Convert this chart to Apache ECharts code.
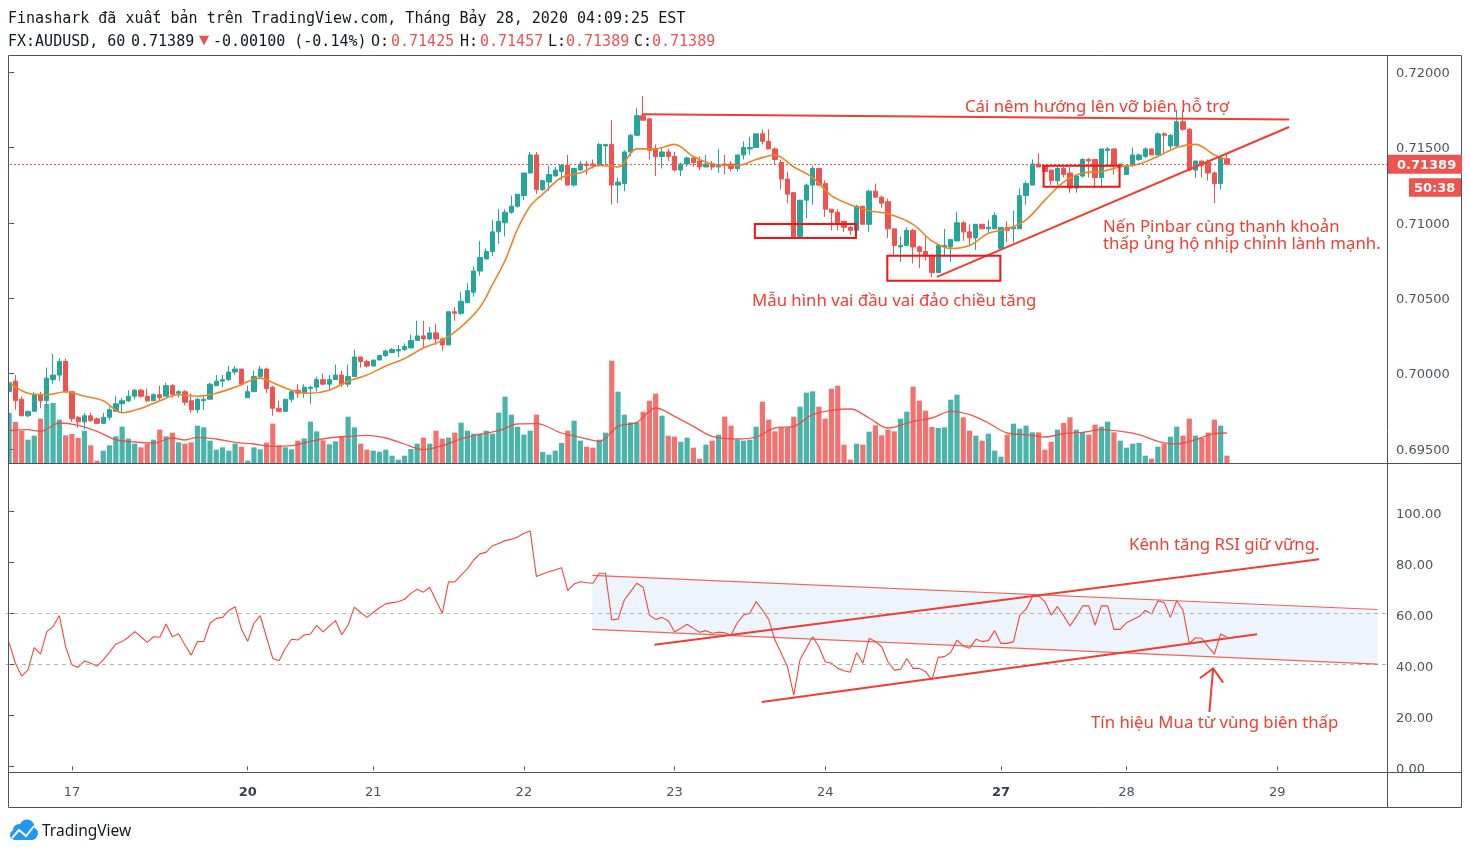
<!DOCTYPE html>
<html><head><meta charset="utf-8">
<script src="https://cdn.jsdelivr.net/npm/echarts@6/dist/echarts.min.js"></script>
<style>html,body{margin:0;padding:0;background:#fff;}#c{width:1470px;height:855px;}</style>
</head><body><div id="c"></div>
<script>
// ---------- time axis ----------
const slotCount = 220;
const dayIdx = [10, 38, 58, 82, 106, 130, 158, 178, 202];
const dayLabels = ['17', '20', '21', '22', '23', '24', '27', '28', '29'];
const boldDays = ['20', '27'];

// ---------- OHLC (hourly FX:AUDUSD) ----------
const open = [0.6988,0.6995,0.6983,0.6972,0.6975,0.6986,0.6982,0.6996,0.6999,0.7008,
0.6988,0.6971,0.6968,0.6972,0.6970,0.6967,0.6971,0.6975,0.6980,0.6982,
0.6985,0.6989,0.6985,0.6982,0.6986,0.6985,0.6992,0.6987,0.6988,0.6982,
0.6976,0.6982,0.6983,0.6992,0.6995,0.6996,0.7001,0.7003,0.6984,0.6988,
0.6998,0.7003,0.6991,0.6977,0.6975,0.6983,0.6989,0.6987,0.6990,0.6991,
0.6996,0.6993,0.6996,0.6999,0.6993,0.6998,0.7011,0.7008,0.7005,0.7009,
0.7012,0.7014,0.7015,0.7016,0.7017,0.7022,0.7025,0.7023,0.7027,0.7023,
0.7019,0.7041,0.7040,0.7047,0.7054,0.7068,0.7076,0.7081,0.7094,0.7100,
0.7107,0.7111,0.7118,0.7133,0.7145,0.7122,0.7127,0.7131,0.7134,0.7138,
0.7125,0.7135,0.7139,0.7139,0.7138,0.7151,0.7152,0.7125,0.7126,0.7147,
0.7158,0.7171,0.7169,0.7149,0.7144,0.7147,0.7144,0.7135,0.7139,0.7143,
0.7141,0.7137,0.7139,0.7137,0.7139,0.7139,0.7136,0.7145,0.7149,0.7150,
0.7159,0.7154,0.7149,0.7140,0.7129,0.7120,0.7091,0.7115,0.7125,0.7136,
0.7126,0.7109,0.7107,0.7101,0.7097,0.7095,0.7111,0.7099,0.7121,0.7117,
0.7114,0.7096,0.7084,0.7085,0.7095,0.7084,0.7081,0.7078,0.7067,0.7084,
0.7084,0.7088,0.7100,0.7094,0.7090,0.7099,0.7096,0.7096,0.7083,0.7097,
0.7096,0.7096,0.7118,0.7125,0.7139,0.7138,0.7135,0.7128,0.7136,0.7133,
0.7123,0.7131,0.7142,0.7142,0.7130,0.7148,0.7149,0.7138,0.7132,0.7138,
0.7142,0.7144,0.7149,0.7145,0.7159,0.7151,0.7151,0.7167,0.7162,0.7135,
0.7141,0.7140,0.7133,0.7126,0.71425];
const high = [0.6996,0.6999,0.6985,0.6975,0.6988,0.6988,0.7004,0.7013,0.7010,0.7010,
0.6988,0.6972,0.6974,0.6974,0.6971,0.6974,0.6978,0.6985,0.6984,0.6989,
0.6990,0.6990,0.6990,0.6987,0.6992,0.6994,0.6993,0.6989,0.6989,0.6987,
0.6984,0.6986,0.6994,0.6999,0.6999,0.7005,0.7005,0.7003,0.6992,0.7002,
0.7005,0.7004,0.6992,0.6982,0.6983,0.6989,0.6993,0.6993,0.6992,0.6998,
0.7000,0.6999,0.7006,0.7002,0.7006,0.7016,0.7011,0.7009,0.7009,0.7012,
0.7016,0.7017,0.7019,0.7020,0.7026,0.7035,0.7035,0.7031,0.7033,0.7024,
0.7041,0.7044,0.7054,0.7060,0.7071,0.7088,0.7083,0.7102,0.7109,0.7109,
0.7118,0.7119,0.7133,0.7147,0.7147,0.7128,0.7138,0.7137,0.7139,0.7145,
0.7136,0.7141,0.7141,0.7142,0.7153,0.7152,0.7168,0.7130,0.7148,0.7159,
0.7176,0.7184,0.7169,0.7152,0.7150,0.7149,0.7147,0.7140,0.7144,0.7144,
0.7144,0.7145,0.7141,0.7149,0.7145,0.7141,0.7145,0.7154,0.7157,0.7159,
0.7162,0.7162,0.7150,0.7142,0.7134,0.7120,0.7115,0.7126,0.7138,0.7136,
0.7128,0.7109,0.7109,0.7101,0.7098,0.7112,0.7111,0.7122,0.7126,0.7118,
0.7116,0.7096,0.7091,0.7097,0.7096,0.7085,0.7091,0.7079,0.7085,0.7096,
0.7089,0.7107,0.7101,0.7099,0.7099,0.7099,0.7102,0.7107,0.7097,0.7101,
0.7108,0.7123,0.7128,0.7142,0.7146,0.7138,0.7135,0.7138,0.7137,0.7137,
0.7132,0.7143,0.7143,0.7142,0.7149,0.7150,0.7149,0.7139,0.7138,0.7150,
0.7146,0.7150,0.7149,0.7160,0.7160,0.7159,0.7175,0.7175,0.7163,0.7141,
0.7141,0.7142,0.7134,0.7144,0.71457];
const low = [0.6987,0.6976,0.6972,0.6971,0.6975,0.6977,0.6977,0.6993,0.6995,0.6987,
0.6968,0.6964,0.6963,0.6968,0.6967,0.6967,0.6969,0.6975,0.6974,0.6981,
0.6983,0.6984,0.6981,0.6982,0.6982,0.6985,0.6984,0.6984,0.6979,0.6974,
0.6974,0.6976,0.6983,0.6992,0.6991,0.6995,0.6999,0.6992,0.6984,0.6988,
0.6997,0.6987,0.6972,0.6975,0.6975,0.6981,0.6984,0.6984,0.6980,0.6988,
0.6992,0.6989,0.6996,0.6991,0.6991,0.6998,0.7004,0.7004,0.7005,0.7009,
0.7011,0.7014,0.7011,0.7015,0.7017,0.7022,0.7017,0.7022,0.7019,0.7015,
0.7019,0.7035,0.7039,0.7047,0.7051,0.7065,0.7076,0.7078,0.7086,0.7091,
0.7106,0.7110,0.7115,0.7133,0.7119,0.7121,0.7121,0.7131,0.7128,0.7125,
0.7124,0.7135,0.7132,0.7136,0.7137,0.7138,0.7112,0.7113,0.7121,0.7144,
0.7158,0.7168,0.7142,0.7131,0.7136,0.7141,0.7134,0.7131,0.7137,0.7137,
0.7135,0.7137,0.7135,0.7133,0.7132,0.7134,0.7134,0.7142,0.7145,0.7150,
0.7152,0.7149,0.7139,0.7122,0.7113,0.7091,0.7090,0.7103,0.7112,0.7125,
0.7104,0.7095,0.7095,0.7094,0.7092,0.7095,0.7099,0.7094,0.7117,0.7110,
0.7090,0.7078,0.7074,0.7085,0.7073,0.7070,0.7075,0.7064,0.7067,0.7078,
0.7074,0.7088,0.7088,0.7085,0.7082,0.7096,0.7093,0.7096,0.7083,0.7087,
0.7087,0.7096,0.7112,0.7125,0.7137,0.7134,0.7125,0.7125,0.7130,0.7120,
0.7120,0.7130,0.7130,0.7123,0.7123,0.7137,0.7132,0.7132,0.7132,0.7137,
0.7141,0.7143,0.7145,0.7145,0.7146,0.7149,0.7150,0.7161,0.7134,0.7130,
0.7130,0.7128,0.7113,0.7122,0.71389];
const close = [0.6994,0.6982,0.6972,0.6975,0.6986,0.6982,0.6997,0.6999,0.7008,0.6988,
0.6970,0.6968,0.6972,0.6969,0.6967,0.6971,0.6976,0.6980,0.6982,0.6985,
0.6989,0.6985,0.6982,0.6986,0.6984,0.6992,0.6986,0.6988,0.6981,0.6976,
0.6983,0.6983,0.6993,0.6995,0.6996,0.7001,0.7003,0.6993,0.6988,0.6998,
0.7003,0.6990,0.6977,0.6975,0.6983,0.6988,0.6987,0.6991,0.6991,0.6996,
0.6993,0.6996,0.6999,0.6993,0.6998,0.7011,0.7008,0.7005,0.7009,0.7012,
0.7015,0.7016,0.7016,0.7018,0.7022,0.7025,0.7023,0.7027,0.7023,0.7019,
0.7041,0.7040,0.7048,0.7055,0.7068,0.7077,0.7081,0.7094,0.7101,0.7107,
0.7111,0.7119,0.7133,0.7145,0.7122,0.7128,0.7132,0.7135,0.7138,0.7125,
0.7136,0.7139,0.7138,0.7138,0.7152,0.7152,0.7125,0.7127,0.7147,0.7158,
0.7171,0.7168,0.7148,0.7144,0.7147,0.7144,0.7135,0.7139,0.7143,0.7140,
0.7137,0.7139,0.7137,0.7138,0.7138,0.7136,0.7145,0.7150,0.7150,0.7159,
0.7154,0.7149,0.7142,0.7129,0.7119,0.7091,0.7115,0.7125,0.7136,0.7125,
0.7109,0.7107,0.7100,0.7097,0.7095,0.7111,0.7099,0.7121,0.7117,0.7113,
0.7096,0.7085,0.7085,0.7095,0.7084,0.7081,0.7078,0.7067,0.7085,0.7085,
0.7089,0.7100,0.7094,0.7090,0.7099,0.7096,0.7097,0.7105,0.7097,0.7095,
0.7097,0.7118,0.7126,0.7139,0.7137,0.7134,0.7128,0.7136,0.7132,0.7123,
0.7131,0.7142,0.7141,0.7130,0.7149,0.7149,0.7138,0.7139,0.7138,0.7145,
0.7145,0.7149,0.7145,0.7159,0.7158,0.7158,0.7167,0.7162,0.7135,0.7141,
0.7138,0.7133,0.7126,0.7143,0.71389];

// ---------- volume (relative units) ----------
const volume = [150,123,97,70,82,133,177,180,130,83,
87,75,97,53,7,37,53,80,109,73,
58,47,57,70,100,80,91,62,58,62,
112,107,67,40,47,37,58,49,7,47,
41,61,118,53,47,41,67,74,124,95,
68,56,65,80,139,107,58,40,37,34,
40,22,10,22,42,58,76,58,97,73,
76,91,121,97,88,88,97,88,151,199,
145,109,85,97,145,33,25,37,60,97,
127,67,49,46,70,91,307,214,145,122,
122,154,187,208,142,82,79,64,76,46,
13,55,67,85,139,112,70,67,70,109,
184,130,95,107,107,139,169,211,215,169,
133,223,232,55,10,58,55,94,113,83,
100,95,133,154,229,187,157,108,105,107,
190,205,137,97,82,67,88,37,19,85,
118,103,112,92,92,40,64,100,120,137,
100,93,85,115,109,124,92,67,46,58,
60,22,13,49,58,79,109,82,133,82,
76,91,130,112,22];

// ---------- RSI ----------
const rsi = [48.5,40.4,35.4,37.8,46.5,44.0,52.8,54.8,59.1,46.9,
39.7,38.8,41.3,40.4,39.3,41.7,44.8,48.0,48.9,50.6,
52.8,50.8,48.6,50.8,50.6,55.8,50.8,52.0,47.6,43.6,
48.9,49.0,56.1,58.0,58.4,61.1,62.6,53.8,49.0,56.1,
59.1,50.6,42.3,41.4,46.2,49.8,49.5,51.5,51.9,55.3,
52.7,55.0,57.1,51.6,55.4,62.4,60.3,58.4,60.3,62.2,
63.7,64.2,64.5,65.5,67.8,69.4,68.3,70.2,65.0,60.0,
72.4,72.3,75.0,77.4,80.9,83.3,84.0,86.5,87.4,88.5,
89.0,89.9,91.4,92.3,74.4,75.4,76.3,77.0,77.9,68.9,
71.5,72.4,72.0,71.8,75.7,75.7,57.4,57.7,65.2,68.5,
71.8,70.2,59.3,57.6,58.4,57.1,52.8,54.1,55.7,54.1,
52.6,53.2,52.2,52.6,52.4,51.5,56.3,59.3,60.0,64.6,
61.3,57.6,49.5,44.3,39.0,27.9,41.9,46.3,50.8,46.9,
41.0,40.4,38.4,37.5,36.9,44.6,40.4,50.2,48.9,46.9,
41.0,37.7,38.0,42.3,38.4,38.4,37.1,33.8,42.7,43.0,
44.6,49.5,47.2,46.3,49.8,48.9,49.3,53.2,48.2,48.2,
48.9,59.3,61.6,66.5,66.8,64.6,59.3,62.6,59.0,55.0,
58.7,62.9,62.9,55.4,62.9,62.9,53.7,53.7,56.3,57.6,
58.7,61.1,59.7,64.8,64.2,58.4,64.9,61.3,48.2,50.4,
50.2,46.9,44.0,51.9,50.6];

// ---------- moving averages: [candle index, value] ----------
const priceMa = [[0,0.6994],[3,0.6987],[6,0.6986],[9,0.6988],[12,0.6985],[15,0.6982],[18,0.6974],[21,0.6977],
[24,0.6982],[27,0.6986],[30,0.6985],[33,0.6987],[36,0.6991],[40,0.6997],[42,0.6994],[45,0.6989],[48,0.6987],
[51,0.6989],[54,0.6995],[57,0.6999],[60,0.7005],[63,0.7010],[66,0.7017],[69,0.7022],[72,0.7031],[75,0.7044],
[77,0.7059],[79,0.7075],[81,0.7096],[83,0.7111],[85,0.7119],[88,0.7130],[91,0.7133],[94,0.7138],[97,0.7137],
[100,0.7149],[103,0.7149],[106,0.7152],[109,0.7144],[112,0.7139],[116,0.7138],[119,0.7142],[122,0.7145],
[125,0.7137],[128,0.7130],[131,0.7118],[134,0.7112],[137,0.7108],[140,0.7106],[144,0.7099],[147,0.7088],
[150,0.7083],[153,0.7085],[156,0.7093],[159,0.7096],[162,0.7102],[165,0.7115],[168,0.7127],[171,0.7133],
[174,0.7134],[177,0.7137],[180,0.7139],[183,0.7144],[186,0.7150],[189,0.7152],[192,0.7145],[194,0.7142]];
const volumeMa = [[0,97],[3,100],[5,95],[8,120],[11,113],[14,95],[17,70],[20,63],[23,60],[26,75],[28,69],
[30,77],[33,72],[36,62],[39,57],[42,50],[45,52],[48,65],[51,75],[54,80],[57,83],[60,75],[63,57],[66,40],
[69,52],[72,72],[75,86],[78,97],[81,117],[84,118],[88,90],[91,77],[94,65],[97,110],[100,122],[103,165],
[106,140],[109,110],[112,80],[116,72],[119,78],[122,105],[125,110],[128,145],[131,158],[134,162],[137,135],
[140,105],[144,125],[147,135],[150,155],[153,145],[156,120],[159,90],[162,85],[165,78],[168,88],[171,92],
[174,100],[177,95],[180,85],[183,65],[186,57],[189,70],[192,88],[194,90]];

// ---------- axis ticks ----------
const priceTicks = [0.695, 0.700, 0.705, 0.710, 0.715, 0.720];
const rsiTicks = [0, 20, 40, 60, 80, 100];
const rsiGuides = [60, 40];
const countdown = '50:38';

// ---------- drawn annotations, in (candle index, value) ----------
const wedgeResistance = [[100.8, 0.71720], [203.9, 0.71685]];
const wedgeSupport = [[147.8, 0.70641], [203.9, 0.71635]];
const patternBoxes = [
  [[118.8, 0.70992], [134.9, 0.70899]],
  [[139.9, 0.70782], [157.9, 0.70616]],
  [[164.8, 0.71379], [176.9, 0.71239]]
];
const rsiChannelUpper = [[92.9, 74.9], [218, 61.5]];
const rsiChannelLower = [[92.9, 53.7], [218, 40.1]];
const rsiTrendA = [[102.8, 47.7], [208.7, 81.2]];
const rsiTrendB = [[119.9, 25.2], [198.8, 51.8]];
const rsiArrowShaft = [[191.2, 21.3], [191.8, 38.4]];
const rsiArrowHead = [[189.7, 34.5], [191.8, 38.4], [193.4, 32.8]];

// ---------- layout & styles ----------
const UP = '#26a69a', DOWN = '#ef5350';
const ANNO = '#f23d33', BOX = '#ff1010';
const AXIS_TXT = '#50535e', BORDER = '#4f5360';
const PX_LEFT = 6, PANE_W = 1381;
const PRICE_TOP = 55, PRICE_H = 408, RSI_TOP = 463, RSI_H = 309;
const priceMin = 0.72 - (463 - 72) / 15080, priceMax = 0.72 + 17 / 15080;
const rsiMin = (766.3 - 772) / 2.55, rsiMax = (766.3 - 463) / 2.55;
const volMax = PRICE_H * 3;

const last = close.length - 1;
const cats = Array.from({length: slotCount}, (_, k) => String(k));
const candleData = open.map((o, k) => [o, close[k], low[k], high[k]]);
const volData = volume.map((v, k) => ({value: v, itemStyle: {color: close[k] >= open[k] ? 'rgba(38,166,154,0.84)' : 'rgba(239,83,80,0.82)'}}));
const isDay = (idx) => dayIdx.indexOf(idx) >= 0;

function shapeSeries(shapes, xAxisIndex, yAxisIndex, z) {
  return {
    type: 'custom', xAxisIndex, yAxisIndex, z, silent: true, animation: false,
    data: shapes.map(s => s.pts[0]),
    renderItem: (params, api) => {
      const s = shapes[params.dataIndex];
      const pts = s.pts.map(p => api.coord(p));
      if (s.kind === 'fill') return {type: 'polygon', shape: {points: pts}, style: {fill: '#edf4fb', stroke: null}};
      if (s.kind === 'box') return {type: 'polygon', shape: {points: pts}, style: {fill: 'none', stroke: BOX, lineWidth: 2}};
      return {type: 'polyline', shape: {points: pts}, style: {fill: 'none', stroke: s.color || ANNO, lineWidth: s.width || 2, opacity: s.opacity || 1}};
    }
  };
}
const boxShape = (b) => ({kind: 'box', pts: [[b[0][0], b[0][1]], [b[1][0], b[0][1]], [b[1][0], b[1][1]], [b[0][0], b[1][1]]]});
const priceShapes = [
  {kind: 'line', pts: wedgeResistance},
  {kind: 'line', pts: wedgeSupport}
].concat(patternBoxes.map(boxShape));
const rsiFill = [{kind: 'fill', pts: [rsiChannelUpper[0], rsiChannelUpper[1], rsiChannelLower[1], rsiChannelLower[0]]}];
const rsiLines = [
  {kind: 'line', pts: rsiChannelUpper, width: 1.2, opacity: 0.8},
  {kind: 'line', pts: rsiChannelLower, width: 1.2, opacity: 0.8},
  {kind: 'line', pts: rsiTrendA},
  {kind: 'line', pts: rsiTrendB},
  {kind: 'line', pts: rsiArrowShaft},
  {kind: 'line', pts: rsiArrowHead}
];

const axisRich = (shift) => ({v: {padding: [shift, 0, 0, 0], color: AXIS_TXT, fontSize: 13, fontFamily: 'DejaVu Sans'}});
const chart = echarts.init(document.getElementById('c'));
const option = {
  animation: false,
  backgroundColor: '#ffffff',
  grid: [
    {left: PX_LEFT, top: PRICE_TOP, width: PANE_W, height: PRICE_H, outerBoundsMode: 'none', containLabel: false},
    {left: PX_LEFT, top: RSI_TOP, width: PANE_W, height: RSI_H, outerBoundsMode: 'none', containLabel: false}
  ],
  xAxis: [
    {type: 'category', gridIndex: 0, data: cats, boundaryGap: true, show: false},
    {type: 'category', gridIndex: 1, data: cats, boundaryGap: true,
      axisLine: {show: false},
      axisTick: {show: true, alignWithLabel: true, interval: (i) => isDay(i), length: 4, lineStyle: {color: AXIS_TXT}},
      axisLabel: {show: true, interval: (i) => isDay(i), margin: 14, color: AXIS_TXT, fontSize: 13, fontFamily: 'DejaVu Sans',
        formatter: (v) => { const k = dayIdx.indexOf(Number(v)); if (k < 0) return ''; const t = dayLabels[k]; return boldDays.indexOf(t) >= 0 ? '{b|' + t + '}' : t; },
        rich: {b: {fontWeight: 'bold', fontSize: 13, color: '#3a3d47', fontFamily: 'DejaVu Sans'}}},
      splitLine: {show: false}},
    {type: 'value', gridIndex: 0, min: -0.5, max: slotCount - 0.5, show: false},
    {type: 'value', gridIndex: 1, min: -0.5, max: slotCount - 0.5, show: false}
  ],
  yAxis: [
    {type: 'value', gridIndex: 0, position: 'right', min: priceMin, max: priceMax,
      splitLine: {show: false}, axisLine: {show: false},
      axisTick: {show: true, length: 5, customValues: priceTicks, lineStyle: {color: AXIS_TXT}},
      axisLabel: {customValues: priceTicks, formatter: (v) => '{v|' + v.toFixed(5) + '}', margin: 9, rich: axisRich(3), color: AXIS_TXT, fontSize: 13, fontFamily: 'DejaVu Sans'}},
    {type: 'value', gridIndex: 0, position: 'left', min: 0, max: volMax, show: false},
    {type: 'value', gridIndex: 1, position: 'right', min: rsiMin, max: rsiMax,
      splitLine: {show: false}, axisLine: {show: false},
      axisTick: {show: true, length: 5, customValues: rsiTicks, lineStyle: {color: AXIS_TXT}},
      axisLabel: {customValues: rsiTicks, formatter: (v) => '{v|' + v.toFixed(2) + '}', margin: 9, rich: axisRich(6), color: AXIS_TXT, fontSize: 13, fontFamily: 'DejaVu Sans'}}
  ],
  series: [
    {type: 'bar', name: 'Volume', xAxisIndex: 0, yAxisIndex: 1, data: volData, barWidth: 5.2, z: 1, silent: true},
    {type: 'line', name: 'Vol MA', xAxisIndex: 0, yAxisIndex: 1, data: volumeMa, smooth: 0.35, showSymbol: false, z: 2, silent: true,
      lineStyle: {color: '#f2453a', width: 1.3, opacity: 0.9}},
    {type: 'candlestick', name: 'AUDUSD', xAxisIndex: 0, yAxisIndex: 0, data: candleData, barWidth: 4.8, z: 3,
      itemStyle: {color: UP, color0: DOWN, borderColor: UP, borderColor0: DOWN, borderWidth: 1}},
    {type: 'line', name: 'MA', xAxisIndex: 0, yAxisIndex: 0, data: priceMa, smooth: 0.35, showSymbol: false, z: 4, silent: true,
      lineStyle: {color: '#ef8427', width: 1.6},
      markLine: {symbol: 'none', silent: true, precision: 6, label: {show: false}, lineStyle: {color: DOWN, type: [2, 2], width: 1},
        data: [{yAxis: close[last]}]}},
    shapeSeries(priceShapes, 2, 0, 6),
    shapeSeries(rsiFill, 3, 2, 0),
    {type: 'line', name: 'RSI', xAxisIndex: 1, yAxisIndex: 2, data: rsi, showSymbol: false, z: 3, silent: true,
      lineStyle: {color: '#f4473d', width: 1.1},
      markLine: {symbol: 'none', silent: true, label: {show: false}, lineStyle: {color: '#b2b5be', type: [4, 4], width: 1},
        data: rsiGuides.map(v => ({yAxis: v}))}},
    shapeSeries(rsiLines, 3, 2, 5)
  ]
};
chart.setOption(option);

// ---------- frame, header, labels ----------
const yLast = chart.convertToPixel({yAxisIndex: 0}, close[last]);
const fmt = (v) => v.toFixed(5);
const chg = close[last] - 0.71489;
const T = (x, y, text, font, fill, extra) => Object.assign({type: 'text', x, y, z: 60, silent: true,
  style: {text, font, fill, verticalAlign: 'middle', align: 'left'}}, extra || {});
const mono = '15px "DejaVu Sans Mono"';
const anno = '16.8px "Noto Sans"';
const graphic = [
  {type: 'rect', z: 55, silent: true, shape: {x: 0, y: 55, width: 8, height: 420}, style: {fill: '#fff'}},
  {type: 'rect', z: 61, silent: true, shape: {x: 8.5, y: 55.5, width: 1453, height: 752}, style: {fill: 'none', stroke: BORDER, lineWidth: 1}},
  {type: 'line', z: 61, silent: true, shape: {x1: 8, y1: 463.5, x2: 1462, y2: 463.5}, style: {stroke: BORDER, lineWidth: 1}},
  {type: 'line', z: 61, silent: true, shape: {x1: 8, y1: 772.5, x2: 1462, y2: 772.5}, style: {stroke: BORDER, lineWidth: 1}},
  {type: 'line', z: 61, silent: true, shape: {x1: 1387.5, y1: 55, x2: 1387.5, y2: 808}, style: {stroke: BORDER, lineWidth: 1}},
  // header
  T(8, 19, 'Finashark đã xuất bản trên TradingView.com, Tháng Bảy 28, 2020 04:09:25 EST', mono, '#131722'),
  T(8, 42, 'FX:AUDUSD, 60', mono, '#131722'),
  T(131, 42, fmt(close[last]), mono, '#131722'),
  T(199, 41, '▼', '13px "DejaVu Sans"', DOWN),
  T(213, 42, chg.toFixed(5) + ' (' + (chg / 0.71489 * 100).toFixed(2) + '%)', mono, '#131722'),
  T(371, 42, 'O:', mono, '#131722'), T(391, 42, fmt(open[last]), mono, DOWN),
  T(460, 42, 'H:', mono, '#131722'), T(480, 42, fmt(high[last]), mono, DOWN),
  T(548, 42, 'L:', mono, '#131722'), T(566, 42, fmt(low[last]), mono, DOWN),
  T(634, 42, 'C:', mono, '#131722'), T(652, 42, fmt(close[last]), mono, DOWN),
  // last price tag
  {type: 'rect', z: 62, silent: true, shape: {x: 1388, y: yLast - 9.5, width: 74, height: 19}, style: {fill: DOWN}},
  T(1397, yLast + 1, fmt(close[last]), 'bold 13px "DejaVu Sans"', '#ffffff', {z: 63}),
  {type: 'rect', z: 62, silent: true, shape: {x: 1409, y: yLast + 14, width: 52, height: 18.5}, style: {fill: DOWN}},
  T(1414, yLast + 24, countdown, 'bold 13px "DejaVu Sans"', '#ffffff', {z: 63}),
  // annotations
  T(965, 107, 'Cái nêm hướng lên vỡ biên hỗ trợ', anno, ANNO),
  T(1103, 227, 'Nến Pinbar cùng thanh khoản', anno, ANNO),
  T(1103, 244, 'thấp ủng hộ nhịp chỉnh lành mạnh.', anno, ANNO),
  T(752, 301, 'Mẫu hình vai đầu vai đảo chiều tăng', anno, ANNO),
  T(1129, 545, 'Kênh tăng RSI giữ vững.', anno, ANNO),
  T(1091, 723, 'Tín hiệu Mua từ vùng biên thấp', anno, ANNO),
  // logo
  {type: 'group', z: 60, silent: true, children: [
    {type: 'circle', shape: {cx: 19, cy: 830, r: 6}, style: {fill: '#2196f3'}},
    {type: 'circle', shape: {cx: 27, cy: 827, r: 7.5}, style: {fill: '#2196f3'}},
    {type: 'circle', shape: {cx: 33, cy: 833, r: 5}, style: {fill: '#2196f3'}},
    {type: 'rect', shape: {x: 10, y: 830, width: 27, height: 10, r: 5}, style: {fill: '#2196f3'}},
    {type: 'polyline', shape: {points: [[12, 838], [19, 830], [26, 836], [34, 826]]}, style: {stroke: '#fff', lineWidth: 2, fill: 'none'}}
  ]},
  T(42, 832, 'TradingView', '15.5px "Noto Sans"', '#131722')
];
chart.setOption({graphic});
</script>
</body></html>
